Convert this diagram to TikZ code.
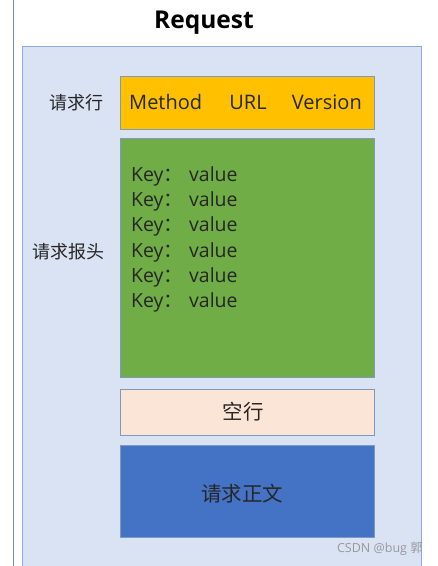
\documentclass[tikz,border=0pt]{standalone}
\usepackage{fontspec}
\setmainfont{Open Sans}
\newfontfamily\cjk{Noto Sans CJK SC}
\definecolor{bgblue}{HTML}{DAE3F3}
\definecolor{edgeblue}{HTML}{8FAADC}
\definecolor{frameline}{HTML}{6C8EBF}
\definecolor{boxedge}{HTML}{7F98C0}
\definecolor{yel}{HTML}{FFC000}
\definecolor{grn}{HTML}{70AD47}
\definecolor{peach}{HTML}{FBE5D6}
\definecolor{blu}{HTML}{4472C4}
\definecolor{txt}{HTML}{262626}
\begin{document}
\begin{tikzpicture}[x=1pt,y=-1pt,
  part/.style={draw=boxedge,line width=1pt,inner sep=0pt},
  lbl/.style={font=\fontsize{18}{18}\selectfont\cjk,text=txt,inner sep=0pt},
  boxtxt/.style={font=\fontsize{20}{20}\selectfont,text=txt,inner sep=0pt},
  keyline/.style={font=\fontsize{19.5}{19.5}\selectfont,text=txt,inner sep=0pt,anchor=base west}]
\useasboundingbox (0,0) rectangle (438,566);
\fill[white] (0,0) rectangle (438,566);
\draw[frameline,line width=1pt] (13,0) -- (13,566);
\path[fill=bgblue,draw=edgeblue,line width=1pt] (22,566) -- (22,46) -- (421,46) -- (421,566);
\node[font=\fontsize{24.5}{24.5}\selectfont\bfseries,text=black,inner sep=0pt,anchor=base] (title) at (204,28) {Request};
% boxes
\path[part,fill=yel] (120,76) rectangle (374,129);
\path[part,fill=grn] (120,138) rectangle (374,377);
\path[part,fill=peach] (120,389) rectangle (374,435);
\path[part,fill=blu] (120,445) rectangle (374,537);
% texts
\node[boxtxt,anchor=base west] (method) at (129,109) {Method};
\node[boxtxt,anchor=base] (url) at (248,109) {URL};
\node[boxtxt,anchor=base east] (ver) at (362,109) {Version};
\foreach \i/\y in {1/181,2/206,3/231,4/257,5/282,6/307}{
  \node[keyline] (k\i) at (131,\y) {\makebox[58pt][l]{Key{\cjk ：}}value};
}
\node[lbl] (l1) at (76,103) {请求行};
\node[lbl] (l2) at (68,252) {请求报头};
\node[boxtxt,font=\fontsize{20.5}{20.5}\selectfont\cjk] (blank) at (243,412) {空行};
\node[boxtxt,font=\fontsize{20.5}{20.5}\selectfont\cjk] (body) at (242,494) {请求正文};
\node[font=\fontsize{12.5}{12.5}\selectfont,text=black!40,inner sep=0pt,anchor=east] (wm) at (423,549) {CSDN @bug {\cjk 郭}};
\end{tikzpicture}
\end{document}
